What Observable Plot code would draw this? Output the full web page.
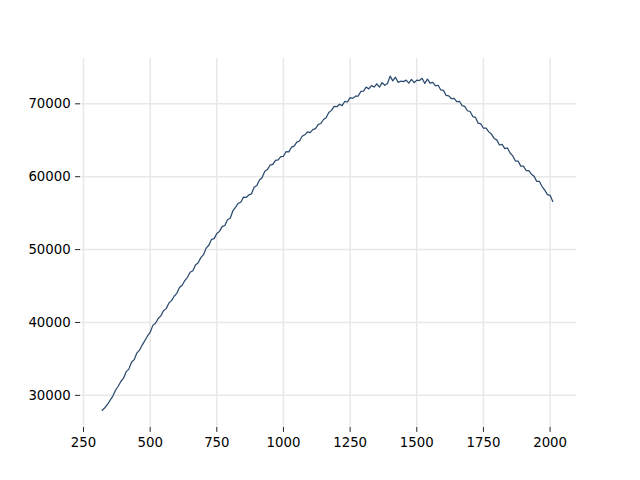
<!DOCTYPE html>
<html>
<head>
<meta charset="utf-8">
<script src="https://cdn.jsdelivr.net/npm/d3@7"></script>
<script src="https://cdn.jsdelivr.net/npm/@observablehq/plot@0.6"></script>
<style>
  html, body { margin: 0; padding: 0; background: #fff; }
</style>
</head>
<body>
<div id="chart"></div>
<script>
const xValues = [
  320,330,340,350,360,370,380,390,400,410,420,430,440,450,460,470,480,490,500,510,
  520,530,540,550,560,570,580,590,600,610,620,630,640,650,660,670,680,690,700,710,
  720,730,740,750,760,770,780,790,800,810,820,830,840,850,860,870,880,890,900,910,
  920,930,940,950,960,970,980,990,1000,1010,1020,1030,1040,1050,1060,1070,1080,1090,1100,1110,
  1120,1130,1140,1150,1160,1170,1180,1190,1200,1210,1220,1230,1240,1250,1260,1270,1280,1290,1300,1310,
  1320,1330,1340,1350,1360,1370,1380,1390,1400,1410,1420,1430,1440,1450,1460,1470,1480,1490,1500,1510,
  1520,1530,1540,1550,1560,1570,1580,1590,1600,1610,1620,1630,1640,1650,1660,1670,1680,1690,1700,1710,
  1720,1730,1740,1750,1760,1770,1780,1790,1800,1810,1820,1830,1840,1850,1860,1870,1880,1890,1900,1910,
  1920,1930,1940,1950,1960,1970,1980,1990,2000,2010
];
const yValues = [
  27950,28300,28750,29350,29900,30700,31250,31900,32350,33250,33600,34550,34900,35800,36200,36900,37500,38150,38650,39600,
  39900,40550,40900,41600,41900,42650,43000,43600,44000,44800,45100,45750,46200,46900,47100,47900,48200,48900,49300,50200,
  50600,51400,51500,52200,52500,53150,53300,54100,54300,55300,55800,56350,56500,57200,57150,57500,57650,58550,58800,59550,
  59900,60750,61000,61600,61700,62250,62300,62750,62800,63450,63400,64050,64200,64750,64900,65550,65750,66150,66050,66450,
  66600,67150,67300,67850,68100,68800,69100,69650,69600,69950,69750,70350,70250,70850,70750,71050,71050,71700,71750,72300,
  72050,72500,72300,72750,72300,72900,72550,72800,73800,73150,73650,72950,73100,73050,73250,72850,73350,72900,73250,73200,
  73500,72800,73400,72850,72950,72450,72550,71900,71850,71150,71100,70700,70750,70300,70350,69750,69650,69050,68950,68250,
  68150,67350,67250,66650,66650,66150,65850,65250,65050,64350,64450,63850,63950,63250,62850,62150,62150,61450,61450,60850,
  60850,60350,60050,59350,59350,58650,58150,57550,57450,56600
];
const xTicks = [250, 500, 750, 1000, 1250, 1500, 1750, 2000];
const yTicks = [30000, 40000, 50000, 60000, 70000];

const data = xValues.map((x, i) => ({x, y: yValues[i]}));
const fmt = d => String(d);

const chart = Plot.plot({
  width: 640,
  height: 480,
  marginLeft: 80,
  marginRight: 64,
  marginTop: 58,
  marginBottom: 53,
  style: {fontFamily: "DejaVu Sans, sans-serif", fontSize: "13.3px", color: "#000", background: "#fff"},
  x: {domain: [238.7, 2099], label: null},
  y: {domain: [25589, 76219], label: null},
  marks: [
    Plot.gridX(xTicks, {stroke: "#e8e8e8", strokeOpacity: 1, strokeWidth: 1.5}),
    Plot.gridY(yTicks, {stroke: "#e8e8e8", strokeOpacity: 1, strokeWidth: 1.5}),
    Plot.axisX(xTicks, {tickSize: 4.9, tickPadding: 4.9, tickFormat: fmt, stroke: "#222", fill: "#000", label: null}),
    Plot.axisY(yTicks, {tickSize: 4.9, tickPadding: 4.9, tickFormat: fmt, stroke: "#222", fill: "#000", label: null}),
    Plot.line(data, {x: "x", y: "y", stroke: "#2b4a6f", strokeWidth: 1.25})
  ]
});
document.getElementById("chart").appendChild(chart);
</script>
</body>
</html>
